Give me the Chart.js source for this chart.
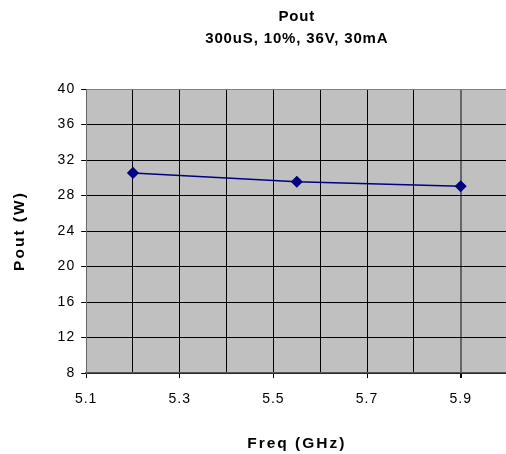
<!DOCTYPE html>
<html>
<head>
<meta charset="utf-8">
<script src="https://cdn.jsdelivr.net/npm/chart.js@4.4.0/dist/chart.umd.min.js"></script>
<style>
  html, body { margin: 0; padding: 0; background: #fff; overflow: hidden; }
  #wrap { width: 520px; height: 454px; }
</style>
</head>
<body>
<div id="wrap"><canvas id="grafico"></canvas></div>
<script>
// datos
const frecuencias = [5.2, 5.55, 5.9]
const potencias = [30.55, 29.55, 29.05]
const ticksX = [5.1, 5.3, 5.5, 5.7, 5.9]
const ticksY = [8, 12, 16, 20, 24, 28, 32, 36, 40]

// el texto del original sale muy espaciado, se imita con letterSpacing segun la fuente
const proto = CanvasRenderingContext2D.prototype
const fillOrig = proto.fillText
const measureOrig = proto.measureText
function espaciar(ctx) {
  const f = ctx.font
  let s = '0px'
  if (/15\.5px/.test(f)) s = '2px'
  else if (/(bold|700) 15px/.test(f)) s = '0.85px'
  else if (/^14px/.test(f)) s = '1px'
  ctx.letterSpacing = s
}
proto.fillText = function (...args) { espaciar(this); return fillOrig.apply(this, args) }
proto.measureText = function (...args) { espaciar(this); return measureOrig.apply(this, args) }

const fondoGris = {
  id: 'fondoGris',
  beforeDraw(chart) {
    const { ctx, chartArea } = chart
    ctx.save()
    ctx.fillStyle = '#C0C0C0'
    ctx.fillRect(chartArea.left, chartArea.top, chartArea.right - chartArea.left, chartArea.bottom - chartArea.top)
    ctx.restore()
  }
}

const esLabel = v => ticksX.some(t => Math.abs(t - v) < 1e-6)
const fuente = 'Liberation Sans, Arial'

const config = {
  type: 'line',
  data: {
    datasets: [{
      data: frecuencias.map((f, i) => ({ x: f, y: potencias[i] })),
      borderColor: '#000080',
      backgroundColor: '#000080',
      borderWidth: 1.5,
      pointStyle: 'rectRot',
      pointRadius: 5,
      tension: 0
    }]
  },
  options: {
    responsive: true,
    maintainAspectRatio: false,
    animation: false,
    layout: { padding: { left: 4, right: 10, top: 0, bottom: 1 } },
    plugins: {
      legend: { display: false },
      tooltip: { enabled: false },
      title: {
        display: true,
        text: ['Pout', '300uS, 10%, 36V, 30mA'],
        fullSize: false,
        color: '#000',
        font: { family: fuente, size: 15, weight: 'bold', lineHeight: 22 / 15 },
        padding: { top: 6, bottom: 39 }
      }
    },
    scales: {
      x: {
        type: 'linear',
        min: 5.1,
        max: 6.0,
        border: { color: '#555', width: 1.5 },
        grid: {
          color: ctx => (Math.abs(ctx.tick.value - 5.9) < 1e-6 ? '#666' : '#000'),
          lineWidth: ctx => (Math.abs(ctx.tick.value - 5.9) < 1e-6 ? 2 : 1),
          tickColor: ctx => (esLabel(ctx.tick.value) ? '#000' : 'rgba(0,0,0,0)'),
          tickLength: 5
        },
        ticks: {
          stepSize: 0.1,
          color: '#000',
          font: { family: fuente, size: 14 },
          maxRotation: 0,
          autoSkip: false,
          padding: 12.5,
          callback: v => (esLabel(v) ? v.toFixed(1) : '')
        },
        title: {
          display: true,
          text: 'Freq (GHz)',
          color: '#000',
          font: { family: fuente, size: 15.5, weight: 'bold', lineHeight: 1.2 },
          padding: { top: 14.5, bottom: 0 }
        }
      },
      y: {
        min: 8,
        max: 40,
        border: { color: '#666', width: 1 },
        grid: {
          color: ctx => (ctx.tick.value === 40 ? '#808080' : '#000'),
          tickColor: '#000',
          tickLength: 5
        },
        ticks: {
          stepSize: 4,
          color: '#000',
          font: { family: fuente, size: 14 },
          padding: 6
        },
        title: {
          display: true,
          text: 'Pout (W)',
          color: '#000',
          font: { family: fuente, size: 15.5, weight: 'bold', lineHeight: 1.2 },
          padding: { top: 6, bottom: 23 }
        }
      }
    }
  },
  plugins: [fondoGris]
}

document.addEventListener('DOMContentLoaded', () => {
  new Chart(document.getElementById('grafico'), config)
})
</script>
</body>
</html>
